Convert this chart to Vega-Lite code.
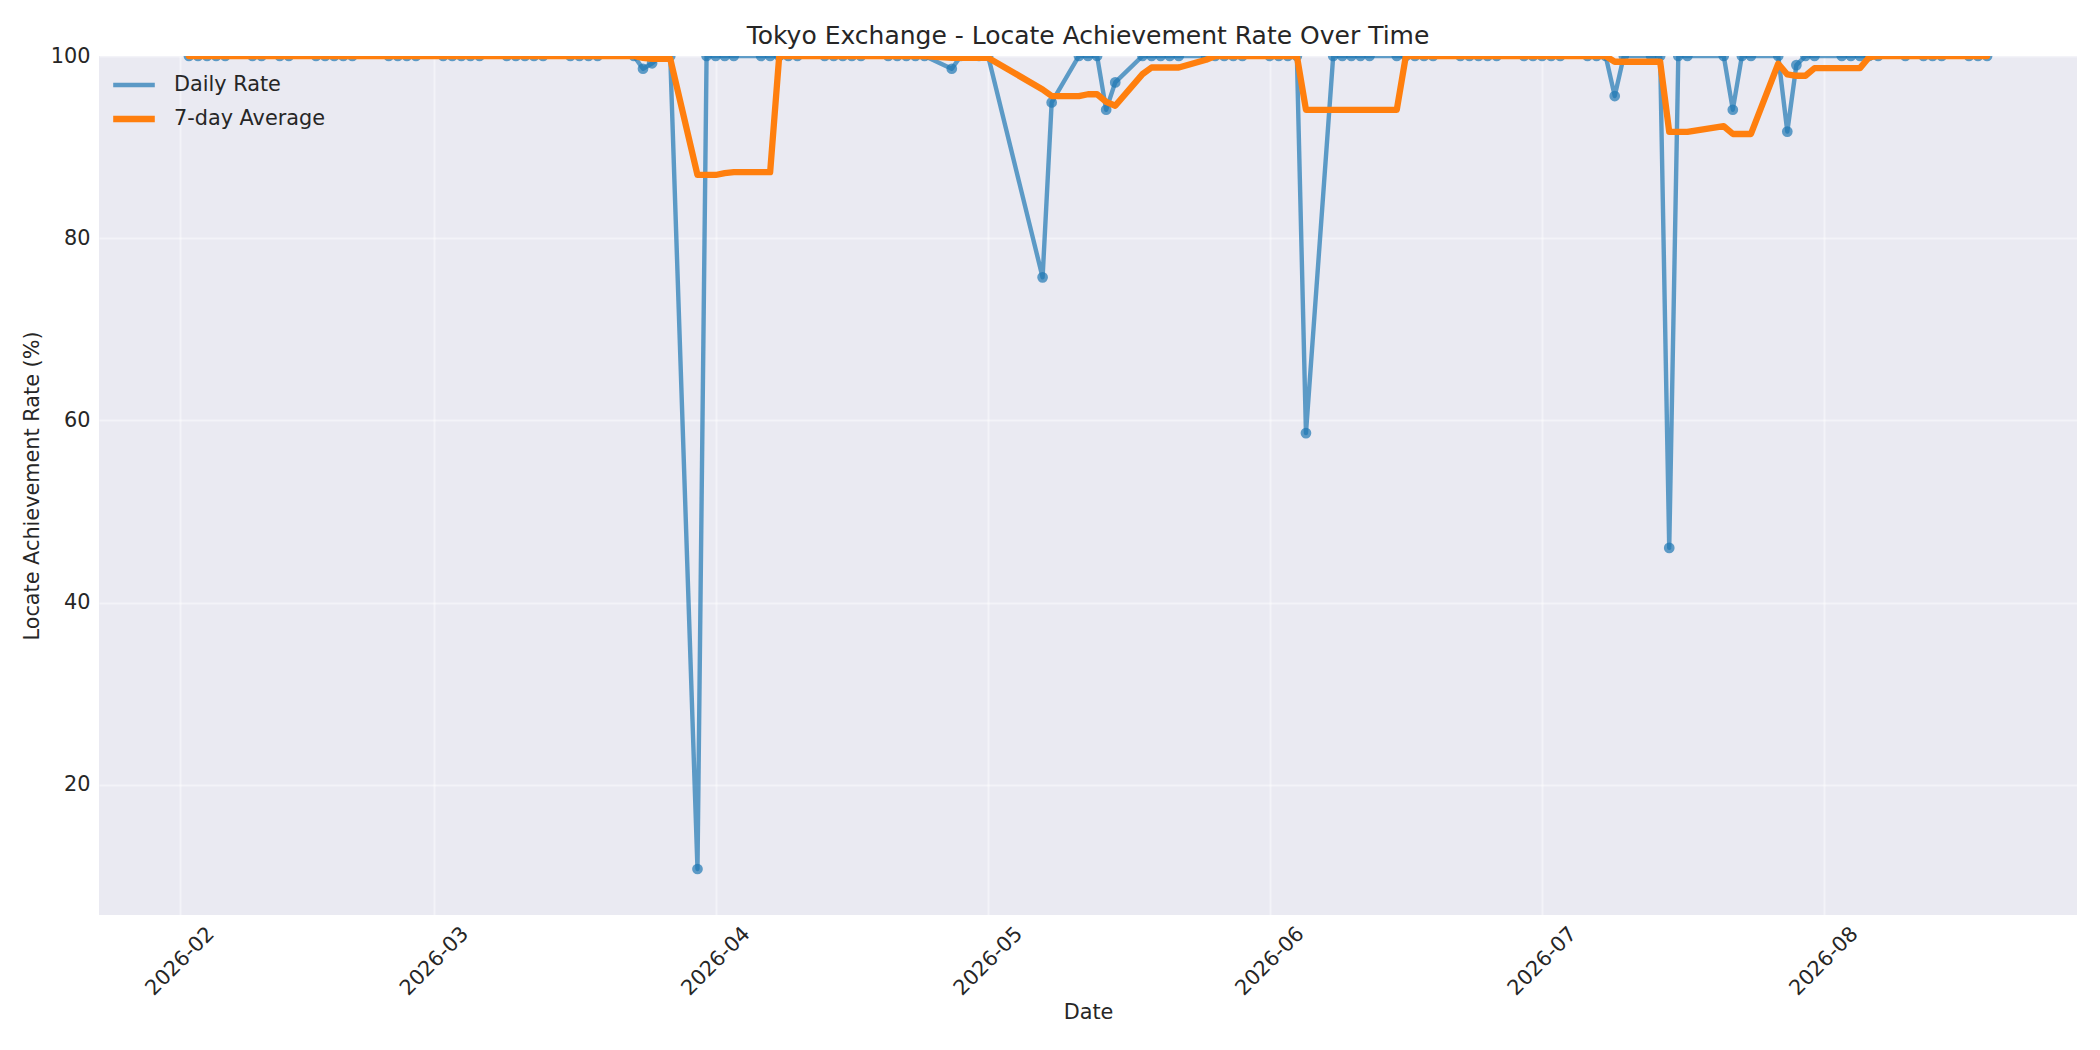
{
  "$schema": "https://vega.github.io/schema/vega-lite/v6.json",
  "autosize": {"type": "none"},
  "width": 1978,
  "height": 859,
  "padding": {"left": 99, "top": 56, "right": 23, "bottom": 135},
  "background": "#ffffff",
  "title": {
    "text": "Tokyo Exchange - Locate Achievement Rate Over Time",
    "font": "DejaVu Sans",
    "fontSize": 25,
    "fontWeight": "normal",
    "color": "#262626",
    "anchor": "middle",
    "frame": "group",
    "baseline": "alphabetic",
    "offset": 13,
    "dy": 37
  },
  "config": {
    "view": {"fill": "#EAEAF2", "stroke": null},
    "font": "DejaVu Sans",
    "axis": {
      "domain": false,
      "ticks": false,
      "grid": true,
      "gridColor": "#ffffff",
      "gridOpacity": 0.45,
      "gridWidth": 2,
      "labelFont": "DejaVu Sans",
      "labelFontSize": 20.8,
      "labelColor": "#262626",
      "titleFont": "DejaVu Sans",
      "titleFontSize": 20.8,
      "titleFontWeight": "normal",
      "titleColor": "#262626"
    },
    "legend": {
      "labelFont": "DejaVu Sans",
      "labelFontSize": 20.8,
      "labelColor": "#262626"
    }
  },
  "data": {
    "values": [
      {"date": "2026-02-02", "daily": 100, "average": 100},
      {"date": "2026-02-03", "daily": 100, "average": 100},
      {"date": "2026-02-04", "daily": 100, "average": 100},
      {"date": "2026-02-05", "daily": 100, "average": 100},
      {"date": "2026-02-06", "daily": 100, "average": 100},
      {"date": "2026-02-09", "daily": 100, "average": 100},
      {"date": "2026-02-10", "daily": 100, "average": 100},
      {"date": "2026-02-12", "daily": 100, "average": 100},
      {"date": "2026-02-13", "daily": 100, "average": 100},
      {"date": "2026-02-16", "daily": 100, "average": 100},
      {"date": "2026-02-17", "daily": 100, "average": 100},
      {"date": "2026-02-18", "daily": 100, "average": 100},
      {"date": "2026-02-19", "daily": 100, "average": 100},
      {"date": "2026-02-20", "daily": 100, "average": 100},
      {"date": "2026-02-24", "daily": 100, "average": 100},
      {"date": "2026-02-25", "daily": 100, "average": 100},
      {"date": "2026-02-26", "daily": 100, "average": 100},
      {"date": "2026-02-27", "daily": 100, "average": 100},
      {"date": "2026-03-02", "daily": 100, "average": 100},
      {"date": "2026-03-03", "daily": 100, "average": 100},
      {"date": "2026-03-04", "daily": 100, "average": 100},
      {"date": "2026-03-05", "daily": 100, "average": 100},
      {"date": "2026-03-06", "daily": 100, "average": 100},
      {"date": "2026-03-09", "daily": 100, "average": 100},
      {"date": "2026-03-10", "daily": 100, "average": 100},
      {"date": "2026-03-11", "daily": 100, "average": 100},
      {"date": "2026-03-12", "daily": 100, "average": 100},
      {"date": "2026-03-13", "daily": 100, "average": 100},
      {"date": "2026-03-16", "daily": 100, "average": 100},
      {"date": "2026-03-17", "daily": 100, "average": 100},
      {"date": "2026-03-18", "daily": 100, "average": 100},
      {"date": "2026-03-19", "daily": 100, "average": 100},
      {"date": "2026-03-23", "daily": 100, "average": 100},
      {"date": "2026-03-24", "daily": 98.6, "average": 99.8},
      {"date": "2026-03-25", "daily": 99.2, "average": 99.69},
      {"date": "2026-03-26", "daily": 100, "average": 99.69},
      {"date": "2026-03-27", "daily": 100, "average": 99.69},
      {"date": "2026-03-30", "daily": 10.75, "average": 86.94},
      {"date": "2026-03-31", "daily": 100, "average": 86.94},
      {"date": "2026-04-01", "daily": 100, "average": 86.94},
      {"date": "2026-04-02", "daily": 100, "average": 87.14},
      {"date": "2026-04-03", "daily": 100, "average": 87.25},
      {"date": "2026-04-06", "daily": 100, "average": 87.25},
      {"date": "2026-04-07", "daily": 100, "average": 87.25},
      {"date": "2026-04-08", "daily": 100, "average": 100},
      {"date": "2026-04-09", "daily": 100, "average": 100},
      {"date": "2026-04-10", "daily": 100, "average": 100},
      {"date": "2026-04-13", "daily": 100, "average": 100},
      {"date": "2026-04-14", "daily": 100, "average": 100},
      {"date": "2026-04-15", "daily": 100, "average": 100},
      {"date": "2026-04-16", "daily": 100, "average": 100},
      {"date": "2026-04-17", "daily": 100, "average": 100},
      {"date": "2026-04-20", "daily": 100, "average": 100},
      {"date": "2026-04-21", "daily": 100, "average": 100},
      {"date": "2026-04-22", "daily": 100, "average": 100},
      {"date": "2026-04-23", "daily": 100, "average": 100},
      {"date": "2026-04-24", "daily": 100, "average": 100},
      {"date": "2026-04-27", "daily": 98.6, "average": 99.8},
      {"date": "2026-04-28", "daily": 100, "average": 99.8},
      {"date": "2026-04-30", "daily": 100, "average": 99.8},
      {"date": "2026-05-01", "daily": 100, "average": 99.8},
      {"date": "2026-05-07", "daily": 75.7, "average": 96.33},
      {"date": "2026-05-08", "daily": 94.9, "average": 95.6},
      {"date": "2026-05-11", "daily": 100, "average": 95.6},
      {"date": "2026-05-12", "daily": 100, "average": 95.8},
      {"date": "2026-05-13", "daily": 100, "average": 95.8},
      {"date": "2026-05-14", "daily": 94.1, "average": 94.96},
      {"date": "2026-05-15", "daily": 97.1, "average": 94.54},
      {"date": "2026-05-18", "daily": 100, "average": 98.01},
      {"date": "2026-05-19", "daily": 100, "average": 98.74},
      {"date": "2026-05-20", "daily": 100, "average": 98.74},
      {"date": "2026-05-21", "daily": 100, "average": 98.74},
      {"date": "2026-05-22", "daily": 100, "average": 98.74},
      {"date": "2026-05-25", "daily": 100, "average": 99.59},
      {"date": "2026-05-26", "daily": 100, "average": 100},
      {"date": "2026-05-27", "daily": 100, "average": 100},
      {"date": "2026-05-28", "daily": 100, "average": 100},
      {"date": "2026-05-29", "daily": 100, "average": 100},
      {"date": "2026-06-01", "daily": 100, "average": 100},
      {"date": "2026-06-02", "daily": 100, "average": 100},
      {"date": "2026-06-03", "daily": 100, "average": 100},
      {"date": "2026-06-04", "daily": 100, "average": 100},
      {"date": "2026-06-05", "daily": 58.6, "average": 94.09},
      {"date": "2026-06-08", "daily": 100, "average": 94.09},
      {"date": "2026-06-09", "daily": 100, "average": 94.09},
      {"date": "2026-06-10", "daily": 100, "average": 94.09},
      {"date": "2026-06-11", "daily": 100, "average": 94.09},
      {"date": "2026-06-12", "daily": 100, "average": 94.09},
      {"date": "2026-06-15", "daily": 100, "average": 94.09},
      {"date": "2026-06-16", "daily": 100, "average": 100},
      {"date": "2026-06-17", "daily": 100, "average": 100},
      {"date": "2026-06-18", "daily": 100, "average": 100},
      {"date": "2026-06-19", "daily": 100, "average": 100},
      {"date": "2026-06-22", "daily": 100, "average": 100},
      {"date": "2026-06-23", "daily": 100, "average": 100},
      {"date": "2026-06-24", "daily": 100, "average": 100},
      {"date": "2026-06-25", "daily": 100, "average": 100},
      {"date": "2026-06-26", "daily": 100, "average": 100},
      {"date": "2026-06-29", "daily": 100, "average": 100},
      {"date": "2026-06-30", "daily": 100, "average": 100},
      {"date": "2026-07-01", "daily": 100, "average": 100},
      {"date": "2026-07-02", "daily": 100, "average": 100},
      {"date": "2026-07-03", "daily": 100, "average": 100},
      {"date": "2026-07-06", "daily": 100, "average": 100},
      {"date": "2026-07-07", "daily": 100, "average": 100},
      {"date": "2026-07-08", "daily": 100, "average": 100},
      {"date": "2026-07-09", "daily": 95.6, "average": 99.37},
      {"date": "2026-07-10", "daily": 100, "average": 99.37},
      {"date": "2026-07-13", "daily": 100, "average": 99.37},
      {"date": "2026-07-14", "daily": 100, "average": 99.37},
      {"date": "2026-07-15", "daily": 46.0, "average": 91.66},
      {"date": "2026-07-16", "daily": 100, "average": 91.66},
      {"date": "2026-07-17", "daily": 100, "average": 91.66},
      {"date": "2026-07-21", "daily": 100, "average": 92.29},
      {"date": "2026-07-22", "daily": 94.1, "average": 91.44},
      {"date": "2026-07-23", "daily": 100, "average": 91.44},
      {"date": "2026-07-24", "daily": 100, "average": 91.44},
      {"date": "2026-07-27", "daily": 100, "average": 99.16},
      {"date": "2026-07-28", "daily": 91.7, "average": 97.97},
      {"date": "2026-07-29", "daily": 99.0, "average": 97.83},
      {"date": "2026-07-30", "daily": 100, "average": 97.83},
      {"date": "2026-07-31", "daily": 100, "average": 98.67},
      {"date": "2026-08-03", "daily": 100, "average": 98.67},
      {"date": "2026-08-04", "daily": 100, "average": 98.67},
      {"date": "2026-08-05", "daily": 100, "average": 98.67},
      {"date": "2026-08-06", "daily": 100, "average": 99.86},
      {"date": "2026-08-07", "daily": 100, "average": 100},
      {"date": "2026-08-10", "daily": 100, "average": 100},
      {"date": "2026-08-12", "daily": 100, "average": 100},
      {"date": "2026-08-13", "daily": 100, "average": 100},
      {"date": "2026-08-14", "daily": 100, "average": 100},
      {"date": "2026-08-17", "daily": 100, "average": 100},
      {"date": "2026-08-18", "daily": 100, "average": 100},
      {"date": "2026-08-19", "daily": 100, "average": 100}
    ]
  },
  "encoding": {
    "x": {
      "field": "date",
      "type": "temporal",
      "title": "Date",
      "scale": {
        "type": "utc",
        "domain": [
          {"year": 2026, "month": 1, "date": 23, "hours": 2, "minutes": 24, "utc": true},
          {"year": 2026, "month": 8, "date": 28, "hours": 21, "minutes": 36, "utc": true}
        ]
      },
      "axis": {
        "format": "%Y-%m",
        "values": [
          {"year": 2026, "month": 2, "date": 1, "utc": true},
          {"year": 2026, "month": 3, "date": 1, "utc": true},
          {"year": 2026, "month": 4, "date": 1, "utc": true},
          {"year": 2026, "month": 5, "date": 1, "utc": true},
          {"year": 2026, "month": 6, "date": 1, "utc": true},
          {"year": 2026, "month": 7, "date": 1, "utc": true},
          {"year": 2026, "month": 8, "date": 1, "utc": true}
        ],
        "labelAngle": -45,
        "labelAlign": "center",
        "labelBaseline": "middle",
        "labelPadding": 46,
        "titlePadding": 4
      }
    }
  },
  "layer": [
    {
      "mark": {"type": "line", "clip": true, "strokeJoin": "round", "strokeCap": "round"},
      "encoding": {
        "y": {
          "field": "daily",
          "type": "quantitative",
          "title": "Locate Achievement Rate (%)",
          "scale": {"domain": [5.7, 100], "nice": false, "zero": false},
          "axis": {"values": [20, 40, 60, 80, 100], "labelPadding": 9, "titlePadding": 8}
        },
        "color": {
          "datum": "Daily Rate",
          "type": "nominal",
          "title": null,
          "scale": {"domain": ["Daily Rate", "7-day Average"], "range": ["#1f77b4", "#ff7f0e"]},
          "legend": {
            "orient": "none",
            "legendX": 3,
            "legendY": -2,
            "padding": 8,
            "symbolType": "stroke",
            "symbolSize": 1730,
            "labelOffset": 16,
            "rowPadding": -7
          }
        },
        "strokeWidth": {
          "datum": "Daily Rate",
          "type": "nominal",
          "title": null,
          "scale": {"type": "ordinal", "domain": ["Daily Rate", "7-day Average"], "range": [4.4, 6.3]}
        },
        "opacity": {
          "datum": "Daily Rate",
          "type": "nominal",
          "title": null,
          "scale": {"type": "ordinal", "domain": ["Daily Rate", "7-day Average"], "range": [0.7, 1]}
        }
      }
    },
    {
      "mark": {"type": "point", "filled": true, "size": 115, "color": "#1f77b4", "opacity": 0.7, "clip": true},
      "encoding": {
        "y": {"field": "daily", "type": "quantitative", "title": "Locate Achievement Rate (%)"}
      }
    },
    {
      "mark": {"type": "line", "clip": true, "strokeJoin": "round", "strokeCap": "round"},
      "encoding": {
        "y": {"field": "average", "type": "quantitative", "title": "Locate Achievement Rate (%)"},
        "color": {
          "datum": "7-day Average",
          "type": "nominal",
          "title": null,
          "scale": {"domain": ["Daily Rate", "7-day Average"], "range": ["#1f77b4", "#ff7f0e"]}
        },
        "strokeWidth": {
          "datum": "7-day Average",
          "type": "nominal",
          "title": null,
          "scale": {"type": "ordinal", "domain": ["Daily Rate", "7-day Average"], "range": [4.4, 6.3]}
        },
        "opacity": {
          "datum": "7-day Average",
          "type": "nominal",
          "title": null,
          "scale": {"type": "ordinal", "domain": ["Daily Rate", "7-day Average"], "range": [0.7, 1]}
        }
      }
    }
  ]
}
